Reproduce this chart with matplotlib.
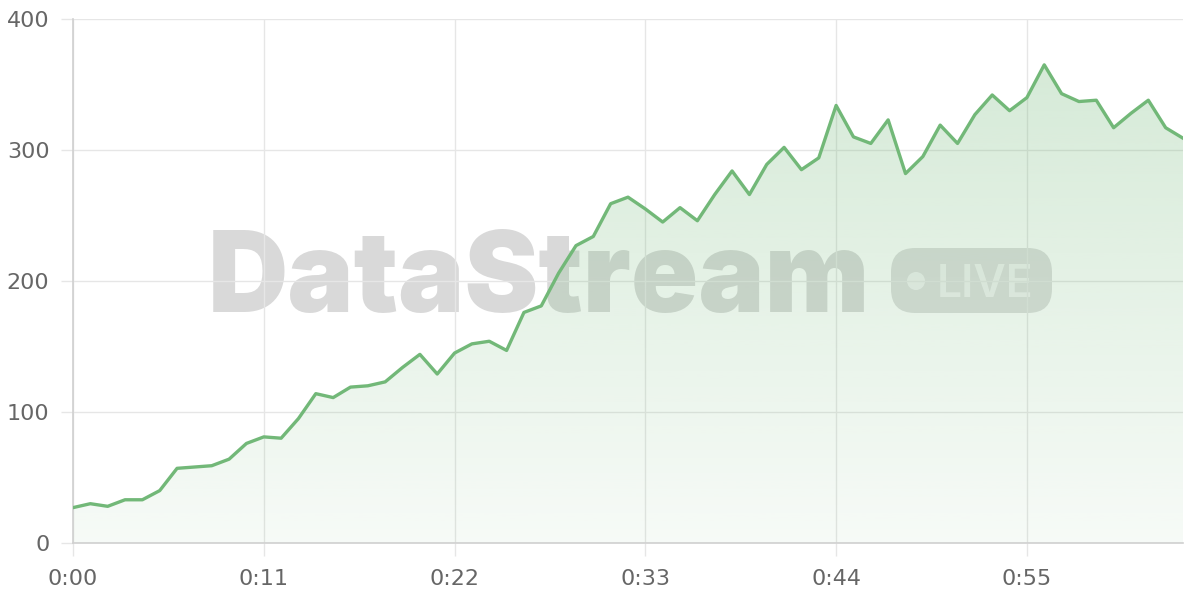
import matplotlib.pyplot as plt
import numpy as np
from matplotlib.patches import FancyBboxPatch, Circle

# seconds since start, one sample per second
seconds = list(range(65))
values = [27, 30, 28, 33, 33, 40, 57, 58, 59, 64,
          76, 81, 80, 95, 114, 111, 119, 120, 123, 134,
          144, 129, 145, 152, 154, 147, 176, 181, 206, 227,
          234, 259, 264, 255, 245, 256, 246, 266, 284, 266,
          289, 302, 285, 294, 334, 310, 305, 323, 282, 295,
          319, 305, 327, 342, 330, 340, 365, 343, 337, 338,
          317, 328, 338, 317, 309]
x_ticks = [0, 11, 22, 33, 44, 55]
x_labels = ["0:00", "0:11", "0:22", "0:33", "0:44", "0:55"]
y_ticks = [0, 100, 200, 300, 400]

green = "#72b878"
grid_c = "#e6e6e6"
label_c = "#666666"

fig = plt.figure(figsize=(12, 6), dpi=100)

# watermark layer in pixel coordinates, under the chart
wm = fig.add_axes([0, 0, 1, 1], zorder=0)
wm.set_xlim(0, 1200)
wm.set_ylim(600, 0)
wm.axis("off")
wm.text(870, 312, "DataStream", ha="right", va="baseline", fontsize=80,
        fontweight=900, family="Inter", color="#000000", alpha=0.15)
badge = FancyBboxPatch((891, 248), 161, 65, boxstyle="round,pad=0,rounding_size=24",
                       fc="#000000", alpha=0.13, ec="none")
wm.add_patch(badge)
wm.add_patch(Circle((916, 281), 9, fc="white", alpha=0.6, ec="none"))
wm.text(985, 297, "LIVE", ha="center", va="baseline", fontsize=32,
        family="Inter", fontweight="semibold", color="white", alpha=0.6)

ax = fig.add_axes([73 / 1200, 57 / 600, 1110 / 1200, 524 / 600], zorder=1)
ax.patch.set_alpha(0)
ax.set_xlim(0, 64)
ax.set_ylim(0, 400)

# gradient fill under the line
poly = ax.fill_between(seconds, values, 0, color="none", lw=0)
grad = np.zeros((256, 1, 4))
rgb = np.array([116, 185, 122]) / 255
grad[:, 0, :3] = rgb
grad[:, 0, 3] = np.linspace(0.32, 0.06, 256)
img = ax.imshow(grad, extent=[0, 64, 0, 400], origin="upper", aspect="auto", zorder=1)
img.set_clip_path(poly.get_paths()[0], transform=ax.transData)

ax.plot(seconds, values, color=green, lw=2.4, zorder=3, solid_joinstyle="round")

ax.set_xticks(x_ticks)
ax.set_xticklabels(x_labels)
ax.set_yticks(y_ticks)
ax.grid(True, color=grid_c, lw=1, zorder=0)
ax.set_axisbelow(True)
for s in ["top", "right"]:
    ax.spines[s].set_visible(False)
for s in ["left", "bottom"]:
    ax.spines[s].set_color("#d0d0d0")
    ax.spines[s].set_linewidth(1.2)
ax.tick_params(length=9, width=1, color=grid_c, labelcolor=label_c,
               labelsize=16, pad=8)
ax.tick_params(axis="x", pad=10)
for lab in ax.get_xticklabels() + ax.get_yticklabels():
    lab.set_family("DejaVu Sans")

fig.savefig("out.png", dpi=100)
